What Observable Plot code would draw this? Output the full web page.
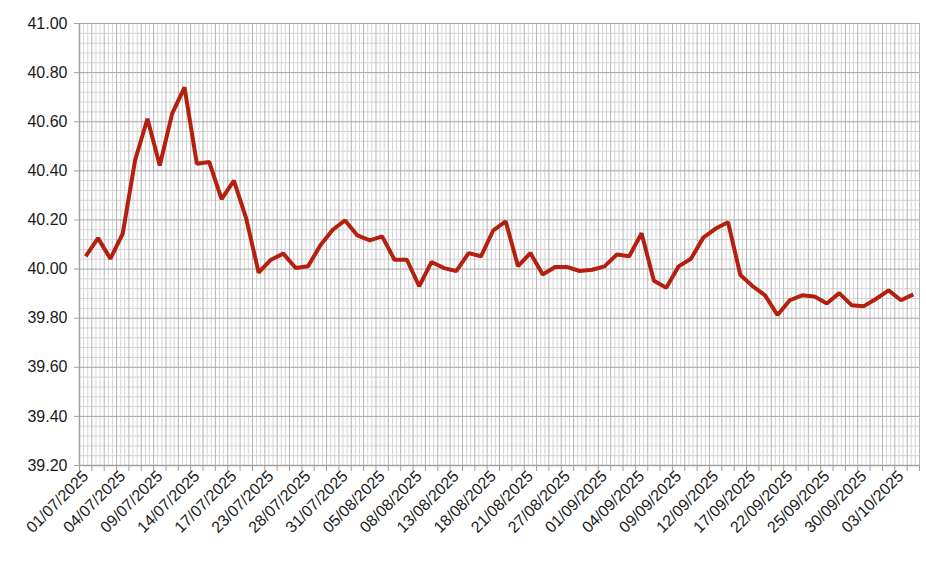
<!DOCTYPE html>
<html>
<head>
<meta charset="utf-8">
<script src="https://cdn.jsdelivr.net/npm/d3@7"></script>
<script src="https://cdn.jsdelivr.net/npm/@observablehq/plot@0.6"></script>
<style>
  html, body { margin: 0; padding: 0; background: #ffffff; }
  #chart { width: 926px; height: 562px; }
</style>
</head>
<body>
<div id="chart"></div>
<script>
const dates = [
  "01/07/2025","02/07/2025","03/07/2025","04/07/2025","07/07/2025","08/07/2025","09/07/2025","10/07/2025",
  "11/07/2025","14/07/2025","15/07/2025","16/07/2025","17/07/2025","18/07/2025","22/07/2025","23/07/2025",
  "24/07/2025","25/07/2025","28/07/2025","29/07/2025","30/07/2025","31/07/2025","01/08/2025","04/08/2025",
  "05/08/2025","06/08/2025","07/08/2025","08/08/2025","11/08/2025","12/08/2025","13/08/2025","14/08/2025",
  "15/08/2025","18/08/2025","19/08/2025","20/08/2025","21/08/2025","22/08/2025","26/08/2025","27/08/2025",
  "28/08/2025","29/08/2025","01/09/2025","02/09/2025","03/09/2025","04/09/2025","05/09/2025","08/09/2025",
  "09/09/2025","10/09/2025","11/09/2025","12/09/2025","15/09/2025","16/09/2025","17/09/2025","18/09/2025",
  "19/09/2025","22/09/2025","23/09/2025","24/09/2025","25/09/2025","26/09/2025","29/09/2025","30/09/2025",
  "01/10/2025","02/10/2025","03/10/2025","06/10/2025"
];
const values = [
  40.052, 40.126, 40.042, 40.144, 40.443, 40.612, 40.422, 40.633,
  40.740, 40.429, 40.436, 40.285, 40.360, 40.205, 39.986, 40.038,
  40.063, 40.004, 40.011, 40.097, 40.160, 40.198, 40.137, 40.117,
  40.133, 40.038, 40.038, 39.930, 40.029, 40.004, 39.992, 40.065,
  40.052, 40.158, 40.194, 40.012, 40.065, 39.978, 40.008, 40.008,
  39.992, 39.997, 40.011, 40.059, 40.052, 40.146, 39.952, 39.924,
  40.011, 40.042, 40.128, 40.165, 40.191, 39.976, 39.930, 39.893,
  39.813, 39.873, 39.893, 39.888, 39.860, 39.902, 39.853, 39.849,
  39.879, 39.913, 39.873, 39.897
];
const yTicks = [39.2, 39.4, 39.6, 39.8, 40.0, 40.2, 40.4, 40.6, 40.8, 41.0];
const labelIndex = [0,3,6,9,12,15,18,21,24,27,30,33,36,39,42,45,48,51,54,57,60,63,66];

const data = dates.map((d, i) => ({i, date: d, value: values[i]}));
const n = dates.length;
const boundaries = d3.range(0, n + 1).map(k => k - 0.5);
const minorX = d3.range(0, n).flatMap(k => [k - 0.5 + 1/3, k - 0.5 + 2/3]);
const minorY = d3.range(0, 46).map(k => 39.2 + k * 0.04).filter((v, k) => k % 5 !== 0);

const chart = Plot.plot({
  width: 926,
  height: 562,
  marginLeft: 79,
  marginRight: 7,
  marginTop: 23,
  marginBottom: 97,
  style: {fontFamily: "Arial, 'Liberation Sans', sans-serif", fontSize: "16px", color: "#1a1a1a", background: "#ffffff", overflow: "visible"},
  x: {type: "linear", domain: [-0.5, n - 0.5]},
  y: {type: "linear", domain: [39.2, 41.0]},
  marks: [
    Plot.ruleY(minorY, {stroke: "#d4d4d4", strokeWidth: 1, strokeOpacity: 1}),
    Plot.ruleX(minorX, {stroke: "#d4d4d4", strokeWidth: 1, strokeOpacity: 1}),
    Plot.ruleX(boundaries, {stroke: "#b3b3b3", strokeWidth: 1, strokeOpacity: 1}),
    Plot.ruleY(yTicks, {stroke: "#a6a6a6", strokeWidth: 1, strokeOpacity: 1}),
    Plot.ruleX([-0.5], {stroke: "#a0a0a0", strokeWidth: 1.5}),
    Plot.ruleY([39.2], {stroke: "#a0a0a0", strokeWidth: 1.5}),
    Plot.axisY({ticks: yTicks, tickFormat: d => d.toFixed(2), tickSize: 5, tickPadding: 7, stroke: "#a0a0a0", strokeOpacity: 1, label: null}),
    Plot.axisX({ticks: boundaries, tickSize: 6, tickFormat: () => "", stroke: "#a0a0a0", strokeOpacity: 1, label: null}),
    Plot.axisX({ticks: labelIndex, tickSize: 0, tickPadding: 8, tickRotate: -45, tickFormat: i => dates[i], label: null}),
    Plot.line(data, {x: "i", y: "value", stroke: "#b3200f", strokeWidth: 4, strokeLinejoin: "miter", strokeLinecap: "butt"})
  ]
});
document.getElementById("chart").appendChild(chart);
</script>
</body>
</html>
